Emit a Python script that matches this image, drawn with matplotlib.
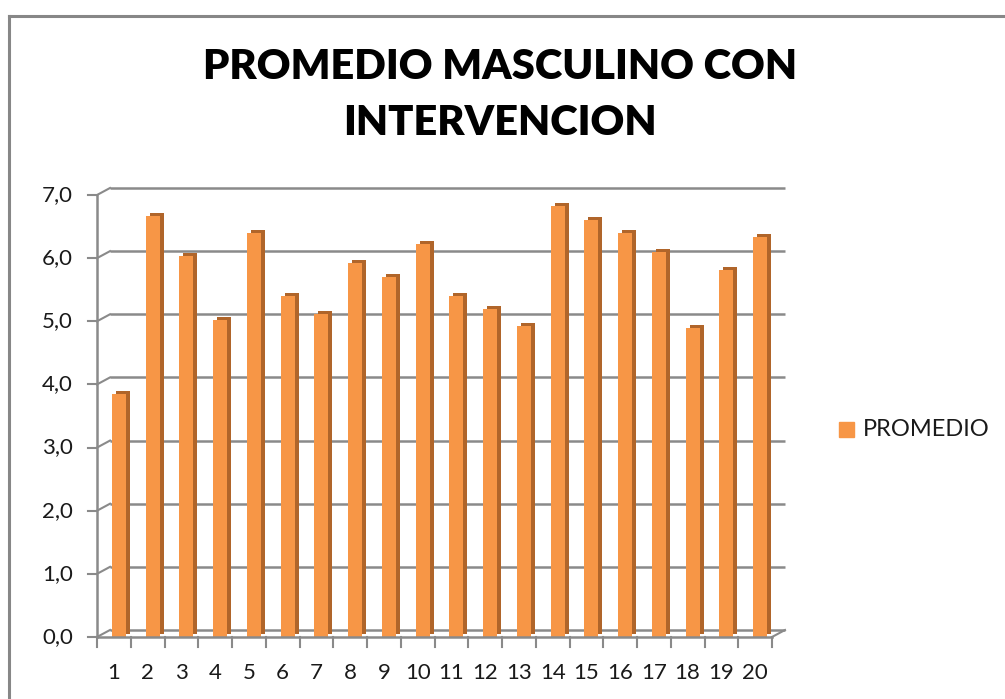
import matplotlib
matplotlib.use("Agg")
import matplotlib.pyplot as plt
from matplotlib.patches import Rectangle
from matplotlib.lines import Line2D
import numpy as np

categories = [str(i) for i in range(1, 21)]
values = [3.85, 6.67, 6.03, 5.02, 6.40, 5.40, 5.12, 5.93, 5.70, 6.23,
          5.40, 5.20, 4.93, 6.83, 6.60, 6.40, 6.10, 4.90, 5.82, 6.33]
yticks = [0, 1, 2, 3, 4, 5, 6, 7]
ytick_labels = ["0,0", "1,0", "2,0", "3,0", "4,0", "5,0", "6,0", "7,0"]
title = "PROMEDIO MASCULINO CON\nINTERVENCION"
series_name = "PROMEDIO"

W, H = 1005, 699
fig = plt.figure(figsize=(W / 100, H / 100), dpi=100)
font = "Lato"

# chart border (left and top visible)
fig.add_artist(Line2D([9 / W, 9 / W], [0, 1 - 16 / H], color="#878787", lw=2.2))
fig.add_artist(Line2D([9 / W, 1], [1 - 16 / H, 1 - 16 / H], color="#878787", lw=2.2))

x0, x1 = 97, 772
y0, y1 = 637, 195
ax = fig.add_axes([x0 / W, 1 - y0 / H, (x1 - x0) / W, (y0 - y1) / H])
ax.set_xlim(0.5, 20.5)
ax.set_ylim(0, 7)
ax.axis("off")

upx = 20 / (x1 - x0)   # data units per pixel (x)
upy = 7 / (y0 - y1)    # data units per pixel (y)
bdx, bdy = 13 * upx, 7 * upy  # back wall offset

grid_c = "#8a8a8a"
# back wall gridlines + diagonals
for t, lab in zip(yticks, ytick_labels):
    ax.plot([0.5 + bdx, 20.5 + bdx], [t + bdy, t + bdy], color=grid_c, lw=1.8,
            clip_on=False, solid_capstyle="butt", zorder=1)
    ax.plot([0.5, 0.5 + bdx], [t, t + bdy], color=grid_c, lw=1.5, clip_on=False, zorder=1)
    ax.plot([0.5 - 9 * upx, 0.5], [t, t], color=grid_c, lw=1.5, clip_on=False, zorder=1)
    ax.text(0.5 - 24 * upx, t, lab, ha="right", va="center",
            fontsize=16, family=font, color="#1a1a1a")
# left front axis
ax.plot([0.5, 0.5], [0, 7], color=grid_c, lw=1.8, clip_on=False, zorder=1)
# floor front line and right diagonal
ax.plot([0.5, 20.5], [0, 0], color=grid_c, lw=1.8, clip_on=False, zorder=4)
ax.plot([20.5, 20.5 + bdx], [0, bdy], color=grid_c, lw=1.5, clip_on=False, zorder=1)
for i in range(21):
    ax.plot([0.5 + i, 0.5 + i], [0, -10 * upy], color=grid_c, lw=1.5, clip_on=False, zorder=4)

xs = np.arange(1, 21)
bw = 14 * upx
off = 5 * upx
sdx, sdy = 4 * upx, 3 * upy
ax.bar(xs + off + sdx, values, width=bw, bottom=sdy, color="#B0652A", zorder=2)
ax.bar(xs + off, values, width=bw, color="#F79646", zorder=3)

for i, c in enumerate(categories):
    ax.text(xs[i], -36 * upy, c, ha="center", va="center", fontsize=16, family=font,
            color="#1a1a1a")

fig.text(500 / W, 1 - 95 / H, title, ha="center", va="center", fontsize=30,
         fontweight="heavy", family=font, linespacing=1.55)

# legend
fig.add_artist(Rectangle((839 / W, 1 - 437 / H), 15 / W, 15 / H, color="#F79646"))
fig.text(863 / W, 1 - 430 / H, series_name, ha="left", va="center", fontsize=17,
         family=font, color="#1a1a1a")

fig.savefig("out.png", dpi=100)
